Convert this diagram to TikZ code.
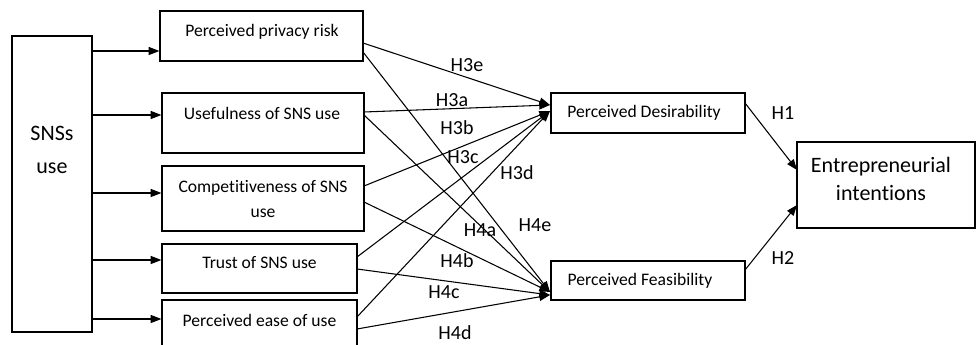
\documentclass[tikz,border=0pt]{standalone}
\usepackage{fontspec}
\setmainfont{Carlito}[Ligatures=NoCommon]
\usetikzlibrary{arrows.meta}
\begin{document}
\begin{tikzpicture}[x=0.75pt,y=-0.75pt,
  box/.style={draw,line width=0.9pt,inner sep=0pt},
  txt/.style={font=\fontsize{13.2}{18.75}\selectfont,align=center,inner sep=0pt},
  big/.style={font=\fontsize{16.5}{21}\selectfont,align=center,inner sep=0pt},
  hlab/.style={font=\fontsize{15}{18}\selectfont,inner sep=0pt},
  arr/.style={line width=0.8pt,-{Triangle[length=8pt,width=6pt]}}]
\useasboundingbox (0,0) rectangle (976,345);
% boxes (px geometry)
\node[box,minimum width=60pt,minimum height=222pt] (sns) at (52,184) {};
\node[box,minimum width=152.25pt,minimum height=37.5pt] (pr) at (261.5,36) {};
\node[box,minimum width=151.5pt,minimum height=45pt] (us) at (263,123) {};
\node[box,minimum width=151.5pt,minimum height=48.75pt] (co) at (263,198.5) {};
\node[box,minimum width=146.25pt,minimum height=36.75pt] (tr) at (259.5,268.5) {};
\node[box,minimum width=146.25pt,minimum height=35.25pt] (pe) at (259.5,323.5) {};
\node[box,minimum width=145.5pt,minimum height=30pt] (pd) at (648,113) {};
\node[box,minimum width=145.5pt,minimum height=29.25pt] (pf) at (648,280.5) {};
\node[box,minimum width=133.5pt,minimum height=64.5pt] (ei) at (886,185) {};
% texts
\node[big,font=\fontsize{16.5}{24.75}\selectfont] (snst) at (52,150) {SNSs\\use};
\node[txt] (prt) at (262,32) {Perceived privacy risk};
\node[txt] (ust) at (262,113) {Usefulness of SNS use};
\node[txt] (cot) at (263,199) {Competitiveness of SNS\\use};
\node[txt] (trt) at (259.5,263) {Trust of SNS use};
\node[txt] (pet) at (259.5,320) {Perceived ease of use};
\node[txt] (pdt) at (644,113) {Perceived Desirability};
\node[txt] (pft) at (640,281) {Perceived Feasibility};
\node[big] (eit) at (881,179) {Entrepreneurial\\intentions};
% y-levels for SNS arrows
\coordinate (y1) at (0,51);
\coordinate (y2) at (0,115);
\coordinate (y3) at (0,193);
\coordinate (y4) at (0,260);
\coordinate (y5) at (0,319);
\draw[arr] (sns.east |- y1) -- (pr.west |- y1);
\draw[arr] (sns.east |- y2) -- (us.west |- y2);
\draw[arr] (sns.east |- y3) -- (co.west |- y3);
\draw[arr] (sns.east |- y4) -- (tr.west |- y4);
\draw[arr] (sns.east |- y5) -- (pe.west |- y5);
% source points
\coordinate (pr1) at (363,43);
\coordinate (pr2) at (363,52);
\coordinate (us1) at (364,112);
\coordinate (us2) at (364,115);
\coordinate (co1) at (364,186);
\coordinate (co2) at (364,202);
\coordinate (tr1) at (357,257);
\coordinate (tr2) at (357,269);
\coordinate (pe1) at (357,317);
\coordinate (pe2) at (357,329);
% target points
\coordinate (pdA) at (550,105);
\coordinate (pdB) at (550,111);
\coordinate (pfA) at (550,292);
\coordinate (pfB) at (550,295);
\draw[arr] (pr1) -- (pdA);
\draw[arr] (us1) -- (pdA);
\draw[arr] (co1) -- (pdB);
\draw[arr] (tr1) -- (pdB);
\draw[arr] (pe1) -- (pdB);
\draw[arr] (pr2) -- (pfA);
\draw[arr] (us2) -- (pfA);
\draw[arr] (co2) -- (pfA);
\draw[arr] (tr2) -- (pfB);
\draw[arr] (pe2) -- (pfB);
% outcome arrows
\coordinate (pdo) at (745,103);
\coordinate (pfo) at (745,270);
\coordinate (ei1) at (797,170);
\coordinate (ei2) at (797,205);
\draw[arr] (pdo) -- (ei1);
\draw[arr] (pfo) -- (ei2);
% labels
\node[hlab] (h3e) at (467,65) {H3e};
\node[hlab] (h3a) at (452,100) {H3a};
\node[hlab] (h3b) at (457,128) {H3b};
\node[hlab] (h3c) at (463,157) {H3c};
\node[hlab] (h3d) at (517,173) {H3d};
\node[hlab] (h4e) at (535,225) {H4e};
\node[hlab] (h4a) at (480,230) {H4a};
\node[hlab] (h4b) at (457,261) {H4b};
\node[hlab] (h4c) at (444,292) {H4c};
\node[hlab] (h4d) at (455,333) {H4d};
\node[hlab] (h1) at (783,113) {H1};
\node[hlab] (h2) at (783,258) {H2};
\end{tikzpicture}
\end{document}
